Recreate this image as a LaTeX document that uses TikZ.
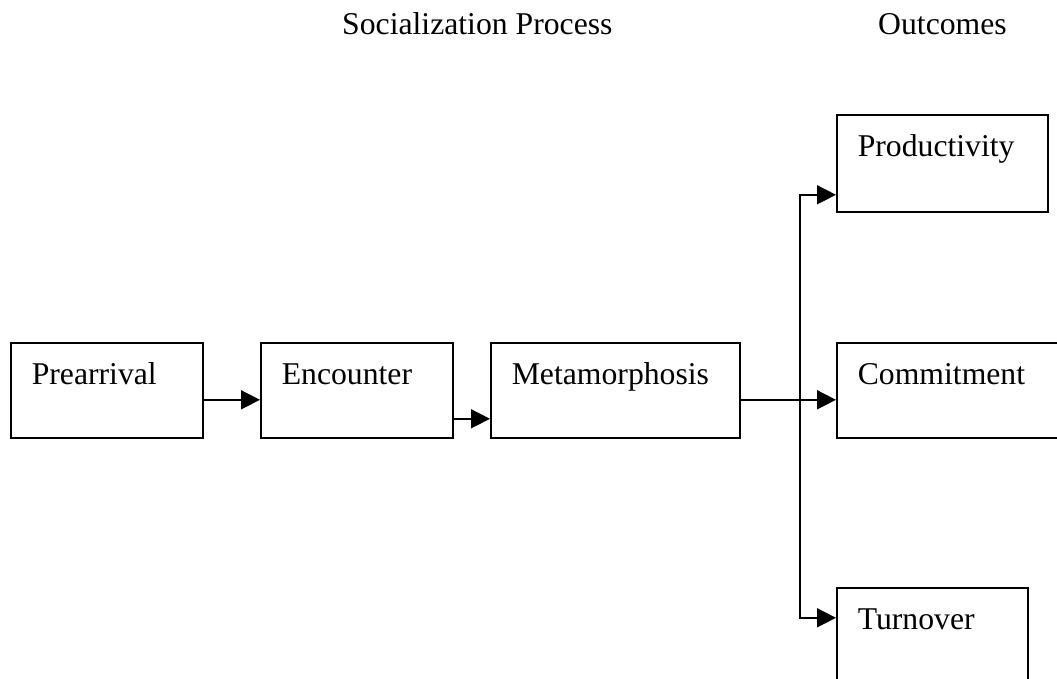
\documentclass[tikz,border=0pt]{standalone}
\usepackage{fontspec}
\setmainfont{Liberation Serif}
\usepackage{tikz}
\usetikzlibrary{arrows.meta}

\newcommand{\stagefont}{\fontsize{31.7}{38}\selectfont}

\tikzset{
  stage/.style={draw,line width=1.6pt,anchor=north west,inner xsep=21pt,inner ysep=0pt,
    align=left,text height=42pt,text depth=53pt,font=\stagefont},
  flow/.style={line width=1.6pt,-{Triangle[length=19pt,width=19pt]}},
  heading/.style={anchor=base west,inner sep=0pt,font=\stagefont}
}

\begin{document}
\begin{tikzpicture}[x=1pt,y=-1pt]
\clip (0,0) rectangle (1057,679);
% headings
\node[heading] (proc) at (342,35) {Socialization Process};
\node[heading] (outc) at (878,35) {Outcomes};
% stages
\node[stage,text width=150pt] (pre) at (10,342) {Prearrival};
\node[stage,text width=150pt] (enc) at (260,342) {Encounter};
\node[stage,text width=207pt] (meta) at (490,342) {Metamorphosis};
% outcomes
\node[stage,text width=169pt,text depth=55pt] (prod) at (836,114) {Productivity};
\node[stage,text width=192pt] (commit) at (836,342) {Commitment};
\node[stage,text width=149pt] (turn) at (836,587) {Turnover};
% arrows
\draw[flow] ([yshift=-9.5pt]pre.east) -- ([yshift=-9.5pt]enc.west);
\draw[flow] ([yshift=-28.5pt]enc.east) -- ([yshift=-28.5pt]meta.west);
\draw[flow] ([yshift=-9.5pt]meta.east) -- ([yshift=-9.5pt]commit.west);
\coordinate (fork) at (800,399);
\draw[flow] (fork) |- ([yshift=-31.5pt]prod.west);
\draw[flow] (fork) |- ([yshift=17.5pt]turn.west);
\end{tikzpicture}
\end{document}
